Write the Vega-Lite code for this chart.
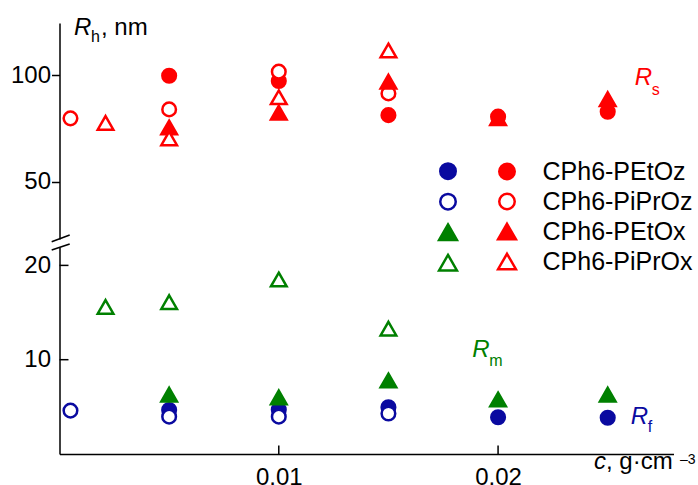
{
  "$schema": "https://vega.github.io/schema/vega-lite/v6.json",
  "background": "white",
  "padding": {"left": 9.5, "top": 16, "right": 0, "bottom": 0},
  "bounds": "flush",
  "spacing": 8,
  "config": {
    "font": "Liberation Sans",
    "view": {"stroke": null},
    "axis": {"grid": false, "domainColor": "black", "domainWidth": 1.5, "tickColor": "black", "tickWidth": 1.5, "labelColor": "black", "labelFont": "Liberation Sans", "labelFontSize": 24}
  },
  "resolve": {
    "scale": {"shape": "independent", "fill": "independent", "stroke": "independent"},
    "legend": {"shape": "independent", "fill": "independent", "stroke": "independent"}
  },
  "datasets": {
    "pts": [
      {"c": 0.005, "R": 99.7, "polymer": "CPh6-PEtOz", "series": "Rs"},
      {"c": 0.01, "R": 97.2, "polymer": "CPh6-PEtOz", "series": "Rs"},
      {"c": 0.015, "R": 81.2, "polymer": "CPh6-PEtOz", "series": "Rs"},
      {"c": 0.02, "R": 80.5, "polymer": "CPh6-PEtOz", "series": "Rs"},
      {"c": 0.025, "R": 82.8, "polymer": "CPh6-PEtOz", "series": "Rs"},
      {"c": 0.0005, "R": 79.7, "polymer": "CPh6-PiPrOz", "series": "Rs"},
      {"c": 0.005, "R": 83.9, "polymer": "CPh6-PiPrOz", "series": "Rs"},
      {"c": 0.01, "R": 101.6, "polymer": "CPh6-PiPrOz", "series": "Rs"},
      {"c": 0.015, "R": 91.4, "polymer": "CPh6-PiPrOz", "series": "Rs"},
      {"c": 0.005, "R": 75.4, "polymer": "CPh6-PEtOx", "series": "Rs"},
      {"c": 0.01, "R": 82.4, "polymer": "CPh6-PEtOx", "series": "Rs"},
      {"c": 0.015, "R": 96.9, "polymer": "CPh6-PEtOx", "series": "Rs"},
      {"c": 0.02, "R": 79.8, "polymer": "CPh6-PEtOx", "series": "Rs"},
      {"c": 0.025, "R": 88.7, "polymer": "CPh6-PEtOx", "series": "Rs"},
      {"c": 0.0021, "R": 77.6, "polymer": "CPh6-PiPrOx", "series": "Rs"},
      {"c": 0.005, "R": 70.3, "polymer": "CPh6-PiPrOx", "series": "Rs"},
      {"c": 0.01, "R": 89.6, "polymer": "CPh6-PiPrOx", "series": "Rs"},
      {"c": 0.015, "R": 111.5, "polymer": "CPh6-PiPrOx", "series": "Rs"},
      {"c": 0.005, "R": 4.67, "polymer": "CPh6-PEtOz", "series": "Rf"},
      {"c": 0.01, "R": 4.7, "polymer": "CPh6-PEtOz", "series": "Rf"},
      {"c": 0.015, "R": 4.95, "polymer": "CPh6-PEtOz", "series": "Rf"},
      {"c": 0.02, "R": 3.9, "polymer": "CPh6-PEtOz", "series": "Rf"},
      {"c": 0.025, "R": 3.85, "polymer": "CPh6-PEtOz", "series": "Rf"},
      {"c": 0.0005, "R": 4.6, "polymer": "CPh6-PiPrOz", "series": "Rf"},
      {"c": 0.005, "R": 3.96, "polymer": "CPh6-PiPrOz", "series": "Rf"},
      {"c": 0.01, "R": 3.96, "polymer": "CPh6-PiPrOz", "series": "Rf"},
      {"c": 0.015, "R": 4.3, "polymer": "CPh6-PiPrOz", "series": "Rf"},
      {"c": 0.005, "R": 6.3, "polymer": "CPh6-PEtOx", "series": "Rm"},
      {"c": 0.01, "R": 6.0, "polymer": "CPh6-PEtOx", "series": "Rm"},
      {"c": 0.015, "R": 7.8, "polymer": "CPh6-PEtOx", "series": "Rm"},
      {"c": 0.02, "R": 5.78, "polymer": "CPh6-PEtOx", "series": "Rm"},
      {"c": 0.025, "R": 6.29, "polymer": "CPh6-PEtOx", "series": "Rm"},
      {"c": 0.0021, "R": 15.6, "polymer": "CPh6-PiPrOx", "series": "Rm"},
      {"c": 0.005, "R": 16.1, "polymer": "CPh6-PiPrOx", "series": "Rm"},
      {"c": 0.01, "R": 18.5, "polymer": "CPh6-PiPrOx", "series": "Rm"},
      {"c": 0.015, "R": 13.3, "polymer": "CPh6-PiPrOx", "series": "Rm"}
    ],
    "xticks": [{"c": 0.01}, {"c": 0.02}],
    "yticks": [{"R": 10}, {"R": 20}]
  },
  "vconcat": [
    {
      "width": 614,
      "height": 216,
      "layer": [
        {
          "data": {"name": "pts"},
          "transform": [{"filter": "datum.series == 'Rs'"}],
          "mark": {"type": "point", "strokeWidth": 2.5, "opacity": 1, "size": 185},
          "encoding": {
            "x": {"field": "c", "type": "quantitative", "scale": {"domain": [0, 0.028], "nice": false, "zero": false}, "axis": null},
            "y": {"field": "R", "type": "quantitative", "scale": {"domain": [23.15, 124.4], "nice": false, "zero": false}, "axis": {"values": [50, 100], "tickSize": 8, "labelPadding": 1, "title": null}},
            "shape": {"field": "polymer", "type": "nominal", "scale": {"domain": ["CPh6-PEtOz", "CPh6-PiPrOz", "CPh6-PEtOx", "CPh6-PiPrOx"], "range": ["circle", "circle", "M0,-1L1.15,1L-1.15,1Z", "M0,-1L1.15,1L-1.15,1Z"]},
              "legend": {"title": null, "orient": "none", "legendX": 435, "legendY": 136, "symbolSize": 240, "symbolStrokeWidth": 2.5, "labelFontSize": 25, "labelFont": "Liberation Sans", "labelColor": "black", "rowPadding": 3, "labelOffset": 23, "padding": 0, "symbolOpacity": 1}},
            "fill": {"field": "polymer", "type": "nominal", "scale": {"domain": ["CPh6-PEtOz", "CPh6-PiPrOz", "CPh6-PEtOx", "CPh6-PiPrOx"], "range": ["#ff0000", "#ffffff", "#ff0000", "#ffffff"]},
              "legend": {"title": null, "orient": "none", "legendX": 435, "legendY": 136, "symbolSize": 240, "symbolStrokeWidth": 2.5, "labelFontSize": 25, "labelFont": "Liberation Sans", "labelColor": "black", "rowPadding": 3, "labelOffset": 23, "padding": 0, "symbolOpacity": 1}},
            "stroke": {"field": "polymer", "type": "nominal", "scale": {"domain": ["CPh6-PEtOz", "CPh6-PiPrOz", "CPh6-PEtOx", "CPh6-PiPrOx"], "range": ["#ff0000", "#ff0000", "#ff0000", "#ff0000"]},
              "legend": {"title": null, "orient": "none", "legendX": 435, "legendY": 136, "symbolSize": 240, "symbolStrokeWidth": 2.5, "labelFontSize": 25, "labelFont": "Liberation Sans", "labelColor": "black", "rowPadding": 3, "labelOffset": 23, "padding": 0, "symbolOpacity": 1}}
          }
        },
        {
          "data": {"values": [{}]},
          "mark": {"type": "text", "text": "R", "fontStyle": "italic", "fontSize": 24, "align": "left", "baseline": "alphabetic", "color": "#ff0000"},
          "encoding": {
            "x": {"datum": 0.02623, "type": "quantitative", "scale": {"domain": [0, 0.028], "nice": false, "zero": false}, "axis": null},
            "y": {"datum": 95.5, "type": "quantitative", "scale": {"domain": [23.15, 124.4], "nice": false, "zero": false}, "axis": {"values": [50, 100], "tickSize": 8, "labelPadding": 1, "title": null}}
          }
        },
        {
          "data": {"values": [{}]},
          "mark": {"type": "text", "text": "s", "fontSize": 16, "align": "left", "baseline": "alphabetic", "color": "#ff0000", "dx": 17, "dy": 10},
          "encoding": {
            "x": {"datum": 0.02623, "type": "quantitative", "scale": {"domain": [0, 0.028], "nice": false, "zero": false}, "axis": null},
            "y": {"datum": 95.5, "type": "quantitative", "scale": {"domain": [23.15, 124.4], "nice": false, "zero": false}, "axis": {"values": [50, 100], "tickSize": 8, "labelPadding": 1, "title": null}}
          }
        },
        {
          "data": {"values": [{}]},
          "mark": {"type": "text", "text": "R", "fontStyle": "italic", "fontSize": 24, "align": "left", "baseline": "alphabetic", "color": "black"},
          "encoding": {
            "x": {"datum": 0.00066, "type": "quantitative", "scale": {"domain": [0, 0.028], "nice": false, "zero": false}, "axis": null},
            "y": {"datum": 118.74, "type": "quantitative", "scale": {"domain": [23.15, 124.4], "nice": false, "zero": false}, "axis": {"values": [50, 100], "tickSize": 8, "labelPadding": 1, "title": null}}
          }
        },
        {
          "data": {"values": [{}]},
          "mark": {"type": "text", "text": "h", "fontSize": 16, "align": "left", "baseline": "alphabetic", "color": "black", "dx": 17, "dy": 7},
          "encoding": {
            "x": {"datum": 0.00066, "type": "quantitative", "scale": {"domain": [0, 0.028], "nice": false, "zero": false}, "axis": null},
            "y": {"datum": 118.74, "type": "quantitative", "scale": {"domain": [23.15, 124.4], "nice": false, "zero": false}, "axis": {"values": [50, 100], "tickSize": 8, "labelPadding": 1, "title": null}}
          }
        },
        {
          "data": {"values": [{}]},
          "mark": {"type": "text", "text": ", nm", "fontSize": 24, "align": "left", "baseline": "alphabetic", "color": "black", "dx": 27},
          "encoding": {
            "x": {"datum": 0.00066, "type": "quantitative", "scale": {"domain": [0, 0.028], "nice": false, "zero": false}, "axis": null},
            "y": {"datum": 118.74, "type": "quantitative", "scale": {"domain": [23.15, 124.4], "nice": false, "zero": false}, "axis": {"values": [50, 100], "tickSize": 8, "labelPadding": 1, "title": null}}
          }
        }
      ]
    },
    {
      "width": 614,
      "height": 207,
      "layer": [
        {
          "data": {"name": "pts"},
          "transform": [{"filter": "datum.series != 'Rs'"}],
          "mark": {"type": "point", "strokeWidth": 2.5, "opacity": 1, "size": 185},
          "encoding": {
            "x": {"field": "c", "type": "quantitative", "scale": {"domain": [0, 0.028], "nice": false, "zero": false}, "axis": {"values": [0.01, 0.02], "format": ".2f", "ticks": false, "labelPadding": 11, "title": null}},
            "y": {"field": "R", "type": "quantitative", "scale": {"domain": [0, 21.95], "nice": false, "zero": false}, "axis": {"values": [10, 20], "ticks": false, "labelPadding": 9, "title": null}},
            "shape": {"field": "polymer", "type": "nominal", "scale": {"domain": ["CPh6-PEtOz", "CPh6-PiPrOz", "CPh6-PEtOx", "CPh6-PiPrOx"], "range": ["circle", "circle", "M0,-1L1.15,1L-1.15,1Z", "M0,-1L1.15,1L-1.15,1Z"]},
              "legend": {"title": null, "orient": "none", "legendX": 379.5, "legendY": -84.8, "symbolSize": 240, "symbolStrokeWidth": 2.5, "labelExpr": "''", "rowPadding": 4.5, "padding": 0, "symbolOpacity": 1}},
            "fill": {"field": "polymer", "type": "nominal", "scale": {"domain": ["CPh6-PEtOz", "CPh6-PiPrOz", "CPh6-PEtOx", "CPh6-PiPrOx"], "range": ["#0a0aa0", "#ffffff", "#008000", "#ffffff"]},
              "legend": {"title": null, "orient": "none", "legendX": 379.5, "legendY": -84.8, "symbolSize": 240, "symbolStrokeWidth": 2.5, "labelExpr": "''", "rowPadding": 4.5, "padding": 0, "symbolOpacity": 1}},
            "stroke": {"field": "polymer", "type": "nominal", "scale": {"domain": ["CPh6-PEtOz", "CPh6-PiPrOz", "CPh6-PEtOx", "CPh6-PiPrOx"], "range": ["#0a0aa0", "#0a0aa0", "#008000", "#008000"]},
              "legend": {"title": null, "orient": "none", "legendX": 379.5, "legendY": -84.8, "symbolSize": 240, "symbolStrokeWidth": 2.5, "labelExpr": "''", "rowPadding": 4.5, "padding": 0, "symbolOpacity": 1}}
          }
        },
        {
          "data": {"name": "xticks"},
          "mark": {"type": "rule", "strokeWidth": 1.5, "color": "black"},
          "encoding": {
            "x": {"field": "c", "type": "quantitative", "scale": {"domain": [0, 0.028], "nice": false, "zero": false}, "axis": {"values": [0.01, 0.02], "format": ".2f", "ticks": false, "labelPadding": 11, "title": null}},
            "y": {"datum": 0, "type": "quantitative", "scale": {"domain": [0, 21.95], "nice": false, "zero": false}, "axis": {"values": [10, 20], "ticks": false, "labelPadding": 9, "title": null}},
            "y2": {"datum": 0.9}
          }
        },
        {
          "data": {"name": "yticks"},
          "mark": {"type": "rule", "strokeWidth": 1.5, "color": "black"},
          "encoding": {
            "x": {"datum": 0, "type": "quantitative", "scale": {"domain": [0, 0.028], "nice": false, "zero": false}, "axis": {"values": [0.01, 0.02], "format": ".2f", "ticks": false, "labelPadding": 11, "title": null}},
            "x2": {"datum": 0.00041},
            "y": {"field": "R", "type": "quantitative", "scale": {"domain": [0, 21.95], "nice": false, "zero": false}, "axis": {"values": [10, 20], "ticks": false, "labelPadding": 9, "title": null}}
          }
        },
        {
          "data": {"values": [{}]},
          "mark": {"type": "rule", "strokeWidth": 1.5, "color": "black"},
          "encoding": {
            "x": {"datum": -0.000356, "type": "quantitative", "scale": {"domain": [0, 0.028], "nice": false, "zero": false}, "axis": {"values": [0.01, 0.02], "format": ".2f", "ticks": false, "labelPadding": 11, "title": null}},
            "x2": {"datum": 0.000465},
            "y": {"datum": 22.51, "type": "quantitative", "scale": {"domain": [0, 21.95], "nice": false, "zero": false}, "axis": {"values": [10, 20], "ticks": false, "labelPadding": 9, "title": null}},
            "y2": {"datum": 23.22}
          }
        },
        {
          "data": {"values": [{}]},
          "mark": {"type": "rule", "strokeWidth": 1.5, "color": "black"},
          "encoding": {
            "x": {"datum": -0.000356, "type": "quantitative", "scale": {"domain": [0, 0.028], "nice": false, "zero": false}, "axis": {"values": [0.01, 0.02], "format": ".2f", "ticks": false, "labelPadding": 11, "title": null}},
            "x2": {"datum": 0.000465},
            "y": {"datum": 21.63, "type": "quantitative", "scale": {"domain": [0, 21.95], "nice": false, "zero": false}, "axis": {"values": [10, 20], "ticks": false, "labelPadding": 9, "title": null}},
            "y2": {"datum": 22.27}
          }
        },
        {
          "data": {"values": [{}]},
          "mark": {"type": "text", "text": "R", "fontStyle": "italic", "fontSize": 24, "align": "left", "baseline": "alphabetic", "color": "#008000"},
          "encoding": {
            "x": {"datum": 0.018824, "type": "quantitative", "scale": {"domain": [0, 0.028], "nice": false, "zero": false}, "axis": {"values": [0.01, 0.02], "format": ".2f", "ticks": false, "labelPadding": 11, "title": null}},
            "y": {"datum": 10.32, "type": "quantitative", "scale": {"domain": [0, 21.95], "nice": false, "zero": false}, "axis": {"values": [10, 20], "ticks": false, "labelPadding": 9, "title": null}}
          }
        },
        {
          "data": {"values": [{}]},
          "mark": {"type": "text", "text": "m", "fontSize": 16, "align": "left", "baseline": "alphabetic", "color": "#008000", "dx": 17, "dy": 9},
          "encoding": {
            "x": {"datum": 0.018824, "type": "quantitative", "scale": {"domain": [0, 0.028], "nice": false, "zero": false}, "axis": {"values": [0.01, 0.02], "format": ".2f", "ticks": false, "labelPadding": 11, "title": null}},
            "y": {"datum": 10.32, "type": "quantitative", "scale": {"domain": [0, 21.95], "nice": false, "zero": false}, "axis": {"values": [10, 20], "ticks": false, "labelPadding": 9, "title": null}}
          }
        },
        {
          "data": {"values": [{}]},
          "mark": {"type": "text", "text": "R", "fontStyle": "italic", "fontSize": 24, "align": "left", "baseline": "alphabetic", "color": "#0a0aa0"},
          "encoding": {
            "x": {"datum": 0.026047, "type": "quantitative", "scale": {"domain": [0, 0.028], "nice": false, "zero": false}, "axis": {"values": [0.01, 0.02], "format": ".2f", "ticks": false, "labelPadding": 11, "title": null}},
            "y": {"datum": 3.18, "type": "quantitative", "scale": {"domain": [0, 21.95], "nice": false, "zero": false}, "axis": {"values": [10, 20], "ticks": false, "labelPadding": 9, "title": null}}
          }
        },
        {
          "data": {"values": [{}]},
          "mark": {"type": "text", "text": "f", "fontSize": 16, "align": "left", "baseline": "alphabetic", "color": "#0a0aa0", "dx": 17, "dy": 8},
          "encoding": {
            "x": {"datum": 0.026047, "type": "quantitative", "scale": {"domain": [0, 0.028], "nice": false, "zero": false}, "axis": {"values": [0.01, 0.02], "format": ".2f", "ticks": false, "labelPadding": 11, "title": null}},
            "y": {"datum": 3.18, "type": "quantitative", "scale": {"domain": [0, 21.95], "nice": false, "zero": false}, "axis": {"values": [10, 20], "ticks": false, "labelPadding": 9, "title": null}}
          }
        },
        {
          "data": {"values": [{}]},
          "mark": {"type": "text", "text": "c", "fontStyle": "italic", "fontSize": 24, "align": "left", "baseline": "alphabetic", "color": "black"},
          "encoding": {
            "x": {"datum": 0.024375, "type": "quantitative", "scale": {"domain": [0, 0.028], "nice": false, "zero": false}, "axis": {"values": [0.01, 0.02], "format": ".2f", "ticks": false, "labelPadding": 11, "title": null}},
            "y": {"datum": -1.59, "type": "quantitative", "scale": {"domain": [0, 21.95], "nice": false, "zero": false}, "axis": {"values": [10, 20], "ticks": false, "labelPadding": 9, "title": null}}
          }
        },
        {
          "data": {"values": [{}]},
          "mark": {"type": "text", "text": ", g·cm", "fontSize": 24, "align": "left", "baseline": "alphabetic", "color": "black", "dx": 12},
          "encoding": {
            "x": {"datum": 0.024375, "type": "quantitative", "scale": {"domain": [0, 0.028], "nice": false, "zero": false}, "axis": {"values": [0.01, 0.02], "format": ".2f", "ticks": false, "labelPadding": 11, "title": null}},
            "y": {"datum": -1.59, "type": "quantitative", "scale": {"domain": [0, 21.95], "nice": false, "zero": false}, "axis": {"values": [10, 20], "ticks": false, "labelPadding": 9, "title": null}}
          }
        },
        {
          "data": {"values": [{}]},
          "mark": {"type": "text", "text": "–3", "fontSize": 14, "align": "left", "baseline": "alphabetic", "color": "black", "dx": 86, "dy": -5},
          "encoding": {
            "x": {"datum": 0.024375, "type": "quantitative", "scale": {"domain": [0, 0.028], "nice": false, "zero": false}, "axis": {"values": [0.01, 0.02], "format": ".2f", "ticks": false, "labelPadding": 11, "title": null}},
            "y": {"datum": -1.59, "type": "quantitative", "scale": {"domain": [0, 21.95], "nice": false, "zero": false}, "axis": {"values": [10, 20], "ticks": false, "labelPadding": 9, "title": null}}
          }
        }
      ]
    }
  ]
}
